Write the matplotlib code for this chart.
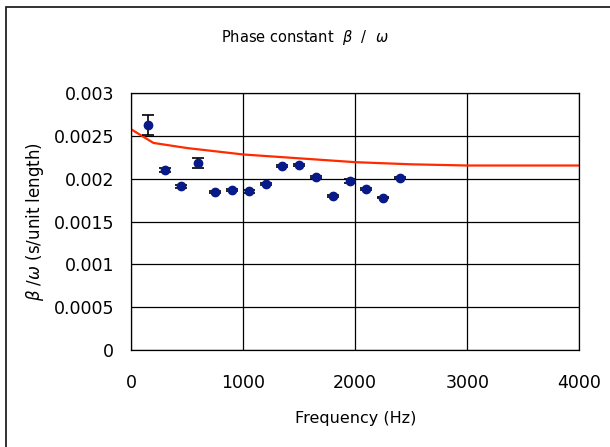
import numpy as np
import matplotlib
matplotlib.use("Agg")
import matplotlib.pyplot as plt
from matplotlib.patches import Rectangle

# measured data
freq = [150, 300, 450, 600, 750, 900, 1050, 1200, 1350, 1500, 1650, 1800, 1950, 2100, 2250, 2400]
beta_w = [0.00263, 0.002105, 0.001913, 0.002183, 0.001843, 0.001867, 0.001855, 0.001937,
          0.002152, 0.002164, 0.002019, 0.001796, 0.001977, 0.001878, 0.001781, 0.002012]
err = [0.00012, 0.00002, 0.00002, 0.00006, 0.00001, 0.00001, 0.00002, 0.00001,
       0.00001, 0.00001, 0.00001, 0.00001, 0.00002, 0.00001, 0.00001, 0.00001]

# theory curve
theory_f = [0, 200, 500, 1000, 1500, 2000, 2500, 3000, 4000]
theory_v = [0.00258, 0.00242, 0.00236, 0.002285, 0.00224, 0.002195, 0.00217, 0.002156, 0.002156]

fig = plt.figure(figsize=(6.1, 4.47), dpi=100)
ax = fig.add_axes([0.2148, 0.217, 0.735, 0.5743])

ax.plot(theory_f, theory_v, c='#ff2a00', lw=1.6, zorder=2)
ax.errorbar(freq, beta_w, yerr=err, fmt='o', c='#08198a', ms=6, ecolor='black',
            elinewidth=1.2, capsize=4, capthick=1.2, zorder=3)

ax.set_xlim(0, 4000)
ax.set_ylim(0, 0.003)
ax.set_xticks([0, 1000, 2000, 3000, 4000])
ax.set_yticks([0, 0.0005, 0.001, 0.0015, 0.002, 0.0025, 0.003])
ax.set_yticklabels(['0', '0.0005', '0.001', '0.0015', '0.002', '0.0025', '0.003'])
ax.grid(True, color='black', lw=0.9)
ax.set_axisbelow(True)
ax.tick_params(axis='y', length=0, labelsize=12.5, pad=12)
ax.tick_params(axis='x', length=0, labelsize=12.5, pad=17)
for s in ax.spines.values():
    s.set_color('black')
    s.set_linewidth(0.9)

ax.set_xlabel('Frequency (Hz)', fontsize=11.5, labelpad=14)
ax.set_ylabel(r'$\beta$ /$\omega$ (s/unit length)', fontsize=12, labelpad=6)
fig.text(0.5, 0.917, r'Phase constant  $\beta$  /  $\omega$', ha='center', va='center', fontsize=10.5)

fig.patches.append(Rectangle((6/610, -0.1), 1.2, 1 - 7/447 + 0.1, transform=fig.transFigure,
                             fill=False, ec='#222222', lw=1.3))

fig.savefig('out.png', dpi=100)
